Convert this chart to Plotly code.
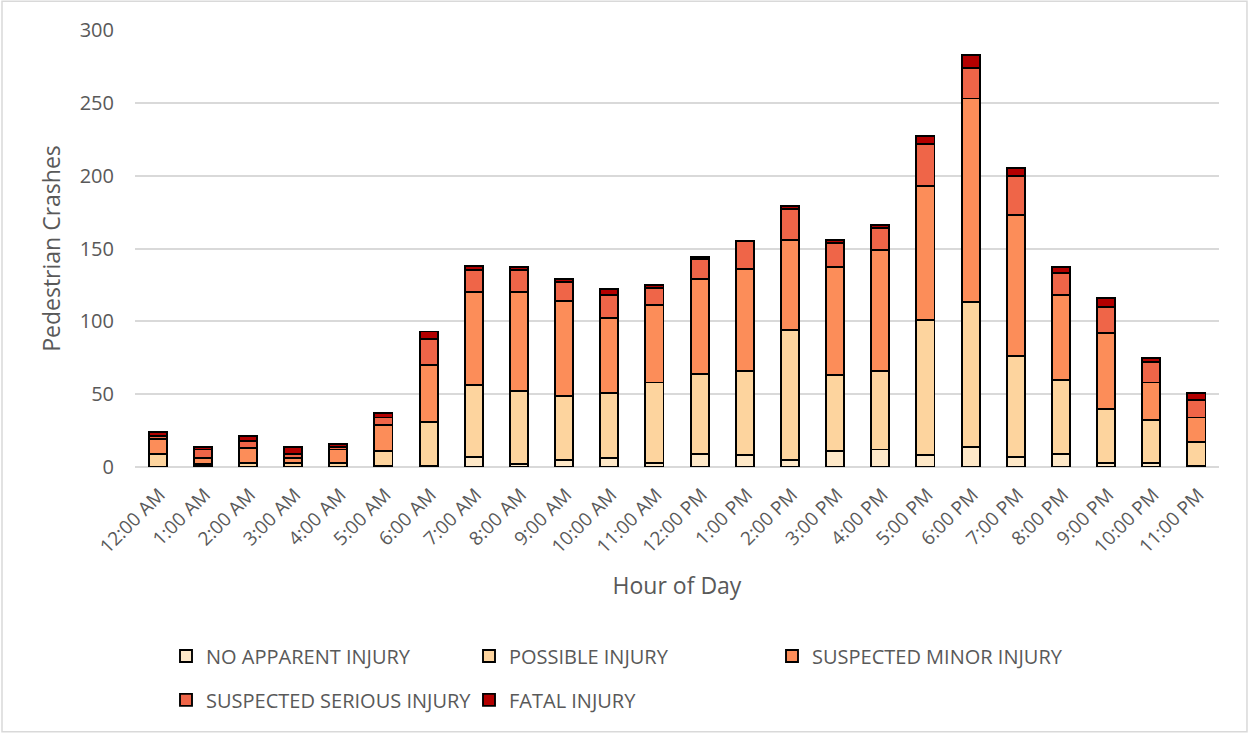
import plotly.graph_objects as go

hours = [
    "12:00 AM", "1:00 AM", "2:00 AM", "3:00 AM", "4:00 AM", "5:00 AM",
    "6:00 AM", "7:00 AM", "8:00 AM", "9:00 AM", "10:00 AM", "11:00 AM",
    "12:00 PM", "1:00 PM", "2:00 PM", "3:00 PM", "4:00 PM", "5:00 PM",
    "6:00 PM", "7:00 PM", "8:00 PM", "9:00 PM", "10:00 PM", "11:00 PM",
]

no_apparent = [0, 1, 0, 0, 0, 1, 1, 7, 2, 5, 6, 3, 9, 8, 5, 11, 12, 8, 14, 7, 9, 3, 3, 1]
possible = [9, 1, 3, 3, 3, 10, 30, 49, 50, 44, 45, 55, 55, 58, 89, 52, 54, 93, 99, 69, 51, 37, 29, 16]
suspected_minor = [10, 4, 10, 3, 9, 18, 39, 64, 68, 65, 51, 53, 65, 70, 62, 74, 83, 92, 140, 97, 58, 52, 26, 17]
suspected_serious = [2, 6, 5, 3, 2, 5, 18, 15, 15, 13, 16, 12, 14, 19, 21, 17, 15, 29, 21, 27, 15, 18, 14, 12]
fatal = [3, 2, 3, 5, 2, 3, 5, 3, 2, 2, 4, 2, 1, 0, 2, 2, 2, 5, 9, 5, 4, 6, 3, 5]

# 前三项在第一行图例，后两项在第二行
series = [
    ("NO APPARENT INJURY", no_apparent, "#FEE8C8", "legend"),
    ("POSSIBLE INJURY", possible, "#FDD49E", "legend"),
    ("SUSPECTED MINOR INJURY", suspected_minor, "#FC8D59", "legend"),
    ("SUSPECTED SERIOUS INJURY", suspected_serious, "#EF6548", "legend2"),
    ("FATAL INJURY", fatal, "#B30000", "legend2"),
]

text_color = "#595959"
font_family = "Open Sans, Liberation Sans, sans-serif"

fig = go.Figure()
for name, values, color, legend_id in series:
    fig.add_trace(
        go.Bar(
            x=hours,
            y=values,
            name=name,
            legend=legend_id,
            marker=dict(color=color, line=dict(color="black", width=1.9)),
        )
    )

legend_style = dict(
    orientation="h",
    x=0.0286,
    xanchor="left",
    yanchor="middle",
    entrywidth=258,
    traceorder="normal",
    font=dict(size=20, color=text_color),
    itemclick=False,
    bgcolor="rgba(0,0,0,0)",
)

fig.update_layout(
    barmode="stack",
    bargap=0.6,
    width=1250,
    height=734,
    margin=dict(l=135, r=31, t=30, b=267),
    paper_bgcolor="white",
    plot_bgcolor="white",
    font=dict(family=font_family, color=text_color, size=17),
    legend=dict(legend_style, y=-0.4325),
    legend2=dict(legend_style, y=-0.533),
    shapes=[
        dict(
            type="rect", xref="paper", yref="paper",
            x0=-0.1227, x1=1.0258, y0=-0.606, y1=1.066,
            line=dict(color="#d9d9d9", width=1.5),
        )
    ],
)

fig.update_xaxes(
    title=dict(text="Hour of Day", font=dict(size=23, color=text_color), standoff=20),
    tickangle=-45,
    tickfont=dict(size=19, color=text_color),
    ticklabelshift=2,
    ticklabelstandoff=12,
    showline=False,
    showgrid=False,
    ticks="",
)

fig.update_yaxes(
    title=dict(text="Pedestrian Crashes", font=dict(size=23, color=text_color), standoff=12),
    range=[0, 300],
    dtick=50,
    tickfont=dict(size=20, color=text_color),
    ticklabelstandoff=20,
    showgrid=True,
    gridcolor="#d9d9d9",
    gridwidth=1.5,
    zeroline=True,
    zerolinecolor="#d9d9d9",
    zerolinewidth=1.5,
    ticks="",
)

fig.write_html(
    "out.html",
    config={"displayModeBar": False},
    post_script="document.body.style.margin='0';",
)
